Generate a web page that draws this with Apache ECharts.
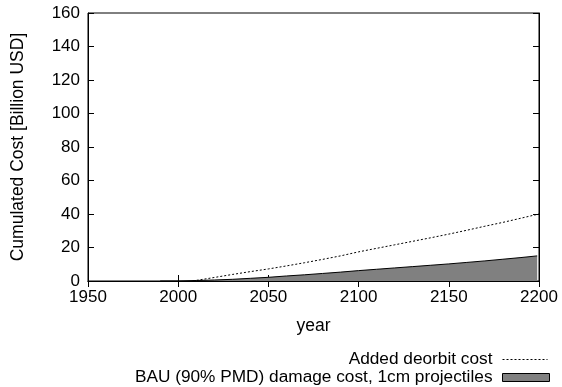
<!DOCTYPE html>
<html>
<head>
<meta charset="utf-8">
<script src="https://cdn.jsdelivr.net/npm/echarts@6/dist/echarts.min.js"></script>
<style>html,body{margin:0;padding:0;background:#fff}#c{width:562px;height:387px}</style>
</head>
<body>
<div id="c"></div>
<script>
const damageYears = [1990,2000,2010,2020,2030,2040,2050,2060,2070,2080,2090,2100,2110,2120,2130,2140,2150,2160,2170,2180,2190,2199];
const damageValues = [0,0,0.3,0.6,1.0,1.6,2.2,3.0,3.7,4.5,5.3,6.2,7.0,7.8,8.6,9.4,10.2,11.1,12.0,13.0,14.0,15.0];
const deorbitYears = [2008,2020,2030,2040,2050,2060,2070,2080,2090,2100,2110,2120,2130,2140,2150,2160,2170,2180,2190,2200];
const deorbitValues = [0,2.1,3.9,5.6,7.2,9.0,10.9,12.9,15.0,17.4,19.5,21.6,23.7,25.8,28.0,30.3,32.7,35.0,37.5,40.0];
const xTicks = [1950,2000,2050,2100,2150,2200];
const yTicks = [0,20,40,60,80,100,120,140,160];
const seriesNames = ['Added deorbit cost','BAU (90% PMD) damage cost, 1cm projectiles'];

const font = 'Liberation Sans, Arial, sans-serif';
const chart = echarts.init(document.getElementById('c'));
const axisCommon = {
  axisLine: {show: true, lineStyle: {color: '#000', width: 1}},
  axisTick: {show: true, inside: true, length: 6, lineStyle: {color: '#000'}},
  splitLine: {show: false}
};
chart.setOption({
  animation: false,
  backgroundColor: '#fff',
  grid: {left: 88, top: 13, right: 23, bottom: 106, show: true, borderColor: '#000', borderWidth: 1},
  xAxis: [
    Object.assign({type: 'value', min: xTicks[0], max: xTicks[xTicks.length-1], interval: 50, position: 'bottom',
      name: 'year', nameLocation: 'middle', nameGap: 36,
      nameTextStyle: {fontFamily: font, fontSize: 17.5, color: '#000'},
      axisLabel: {fontFamily: font, fontSize: 17, color: '#000', margin: 8, formatter: v => String(v)}}, axisCommon),
    Object.assign({type: 'value', min: xTicks[0], max: xTicks[xTicks.length-1], interval: 50, position: 'top',
      axisLabel: {show: false}}, axisCommon)
  ],
  yAxis: [
    Object.assign({type: 'value', min: yTicks[0], max: yTicks[yTicks.length-1], interval: 20, position: 'left',
      name: 'Cumulated Cost [Billion USD]', nameLocation: 'middle', nameGap: 61, nameRotate: 90,
      nameTextStyle: {fontFamily: font, fontSize: 17.5, color: '#000'},
      axisLabel: {fontFamily: font, fontSize: 17, color: '#000', margin: 8}}, axisCommon),
    Object.assign({type: 'value', min: yTicks[0], max: yTicks[yTicks.length-1], interval: 20, position: 'right',
      axisLabel: {show: false}}, axisCommon)
  ],
  legend: [
    {data: [seriesNames[0]], right: 9, top: 346, align: 'right', itemWidth: 45, itemHeight: 10, itemGap: 4,
      itemStyle: {opacity: 0},
      lineStyle: {color: '#000', width: 1, type: [2, 2]},
      textStyle: {fontFamily: font, fontSize: 17.25, color: '#000', padding: [0, 5, 0, 0]}},
    {data: [{name: seriesNames[1], icon: 'rect'}], right: 7, top: 364, align: 'right', itemWidth: 47, itemHeight: 8, itemGap: 4,
      itemStyle: {color: '#808080', borderColor: '#000', borderWidth: 1},
      textStyle: {fontFamily: font, fontSize: 17.25, color: '#000', padding: [0, 5, 0, 0]}}
  ],
  series: [
    {name: seriesNames[0], type: 'line', showSymbol: false, symbol: 'none',
      data: deorbitYears.map((y, i) => [y, deorbitValues[i]]),
      lineStyle: {color: '#000', width: 1, type: [2, 2]}, itemStyle: {color: '#000'}, z: 3},
    {name: seriesNames[1], type: 'line', showSymbol: false, symbol: 'none',
      data: damageYears.map((y, i) => [y, damageValues[i]]),
      lineStyle: {color: '#000', width: 1}, areaStyle: {color: '#808080', opacity: 1},
      itemStyle: {color: '#808080', borderColor: '#000', borderWidth: 1}, z: 2}
  ]
});
</script>
</body>
</html>
